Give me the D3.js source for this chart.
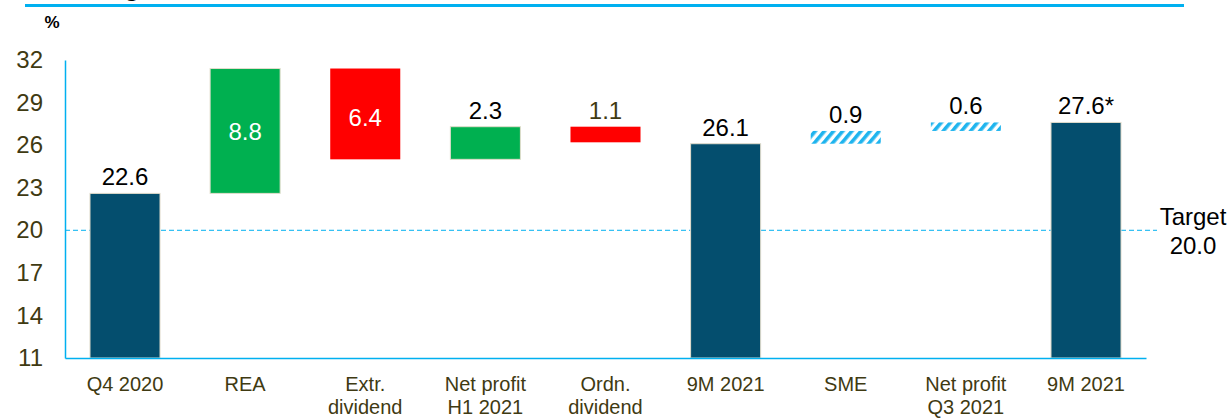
<!DOCTYPE html>
<html>
<head>
<meta charset="utf-8">
<script src="https://cdn.jsdelivr.net/npm/d3@7"></script>
<style>
  body { margin: 0; background: #fff; }
  svg { display: block; font-family: 'Liberation Sans', Arial, sans-serif; }
</style>
</head>
<body>
<svg id="chart" width="1232" height="418"></svg>
<script>
// categories (two-line labels split by |)
const categories = ['Q4 2020', 'REA', 'Extr.|dividend', 'Net profit|H1 2021', 'Ordn.|dividend', '9M 2021', 'SME', 'Net profit|Q3 2021', '9M 2021 ']
const values = [22.6, 8.8, -6.4, 2.3, -1.1, 26.1, 0.9, 0.6, 27.6]
const kinds = ['total', 'up', 'down', 'up', 'down', 'total', 'hatch', 'hatch', 'total']
const valueLabels = ['22.6', '8.8', '6.4', '2.3', '1.1', '26.1', '0.9', '0.6', '27.6*']
const yTicks = [11, 14, 17, 20, 23, 26, 29, 32]
const target = 20.0

const svg = d3.select('#chart')
const axisColor = '#00b0f0'
const tickColor = '#3f3a12'
const colors = {total: '#044e6e', up: '#00b050', down: '#ff0000', hatch: 'url(#hatch)'}

const x = d3.scaleBand().domain(categories).range([65, 1146]).paddingInner(0.417).paddingOuter(0.208)
const y = d3.scaleLinear().domain([11, 32]).range([358, 60])

// hatch pattern
svg.append('defs').append('pattern')
    .attr('id', 'hatch')
    .attr('patternUnits', 'userSpaceOnUse')
    .attr('width', 7).attr('height', 7)
    .attr('patternTransform', 'rotate(40)')
    .append('rect')
    .attr('width', 3.6).attr('height', 7)
    .attr('fill', '#1fb4ee')

// top rule and cut-off title
svg.append('line')
    .attr('x1', 25).attr('x2', 1184).attr('y1', 5.5).attr('y2', 5.5)
    .attr('stroke', axisColor).attr('stroke-width', 3)
svg.append('text')
    .attr('x', 124).attr('y', -4)
    .attr('font-size', 26).attr('font-weight', 'bold')
    .text('g')

svg.append('text')
    .attr('x', 52).attr('y', 28)
    .attr('text-anchor', 'middle')
    .attr('font-size', 17).attr('font-weight', 'bold')
    .text('%')

// build floating bars
let running = 0
const bars = categories.map((c, i) => {
    let lo, hi
    if (kinds[i] === 'total') {
        lo = 11
        hi = values[i]
        running = values[i]
    } else {
        const next = running + values[i]
        lo = Math.min(running, next)
        hi = Math.max(running, next)
        running = next
    }
    return {cat: c, lo: lo, hi: hi, kind: kinds[i], label: valueLabels[i]}
})

// target line
svg.append('line')
    .attr('x1', 65).attr('x2', 1157)
    .attr('y1', y(target)).attr('y2', y(target))
    .attr('stroke', axisColor).attr('stroke-width', 1)
    .attr('stroke-dasharray', '5,3')

svg.append('g')
    .selectAll('rect')
    .data(bars)
    .enter().append('rect')
    .attr('x', d => x(d.cat))
    .attr('width', x.bandwidth())
    .attr('y', d => y(d.hi))
    .attr('height', d => y(d.lo) - y(d.hi))
    .attr('fill', d => colors[d.kind])
    .attr('stroke', d => (d.kind === 'up' || d.kind === 'total') ? '#e2ddcc' : 'none')
    .attr('stroke-width', 1)

// value labels
svg.append('g')
    .selectAll('text')
    .data(bars)
    .enter().append('text')
    .attr('x', d => x(d.cat) + x.bandwidth() / 2)
    .attr('y', d => {
        if (d.kind === 'up' && d.hi - d.lo > 4) return (y(d.hi) + y(d.lo)) / 2 + 9
        if (d.kind === 'down' && d.hi - d.lo > 4) return (y(d.hi) + y(d.lo)) / 2 + 12
        return y(d.hi) - 8
    })
    .attr('text-anchor', 'middle')
    .attr('font-size', 24)
    .attr('fill', d => {
        if (d.hi - d.lo > 4 && d.kind !== 'total') return '#fff'
        if (d.label === '1.1') return tickColor
        return '#000'
    })
    .text(d => d.label)

// axes
const yAxis = svg.append('g')
    .attr('transform', 'translate(65,0)')
    .call(d3.axisLeft(y).tickValues(yTicks).tickSize(0).tickPadding(22))
yAxis.select('.domain').attr('stroke', axisColor).attr('stroke-width', 1.5)
yAxis.selectAll('text').attr('font-size', 24).attr('fill', tickColor)
    .attr('font-family', 'Liberation Sans, Arial, sans-serif')

const xAxis = svg.append('g')
    .attr('transform', 'translate(0,358)')
    .call(d3.axisBottom(x).tickSize(0).tickFormat(''))
xAxis.select('.domain').attr('stroke', axisColor).attr('stroke-width', 1.5)

const xl = svg.append('g')
    .selectAll('text')
    .data(categories)
    .enter().append('text')
    .attr('x', d => x(d) + x.bandwidth() / 2)
    .attr('y', 391)
    .attr('text-anchor', 'middle')
    .attr('font-size', 20)
    .attr('fill', tickColor)
xl.selectAll('tspan')
    .data(d => d.trim().split('|'))
    .enter().append('tspan')
    .attr('x', function () { return d3.select(this.parentNode).attr('x') })
    .attr('dy', (d, i) => i === 0 ? 0 : 23)
    .text(d => d)

// target label
const tg = svg.append('text')
    .attr('x', 1193).attr('y', 225)
    .attr('text-anchor', 'middle')
    .attr('font-size', 24)
tg.append('tspan').attr('x', 1193).text('Target')
tg.append('tspan').attr('x', 1193).attr('dy', 29).text(target.toFixed(1))
</script>
</body>
</html>
